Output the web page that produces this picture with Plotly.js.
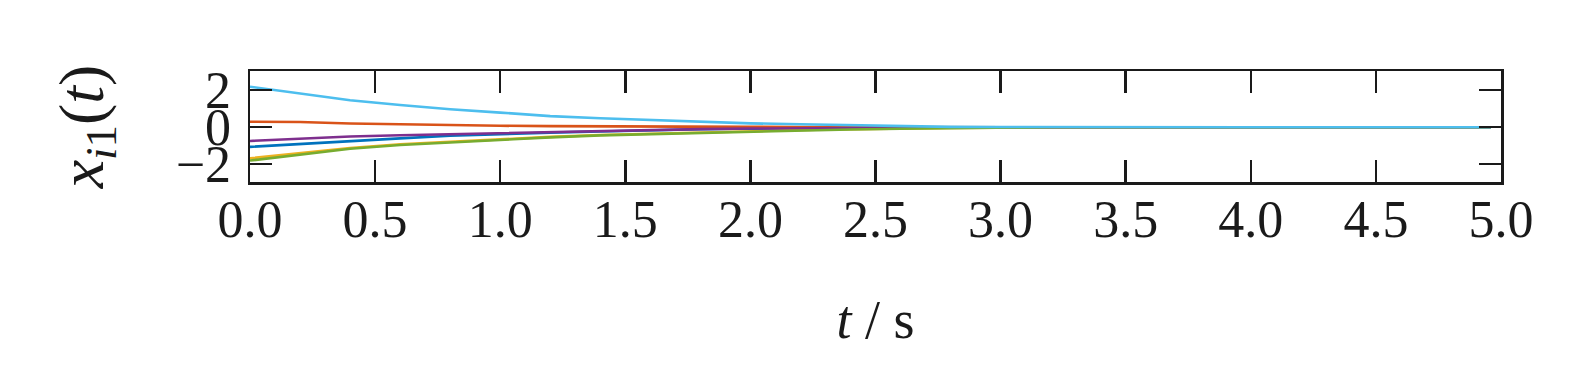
<!DOCTYPE html>
<html>
<head>
<meta charset="utf-8">
<script src="https://cdn.plot.ly/plotly-3.0.1.min.js"></script>
<style>html,body{margin:0;padding:0;background:#fff;}#chart{width:1580px;height:380px;}</style>
</head>
<body>
<div id="chart"></div>
<script>
const t = [0, 0.2, 0.4, 0.6, 0.8, 1.0, 1.2, 1.4, 1.6, 1.8, 2.0, 2.2, 2.4, 2.6, 2.8, 3.0, 3.2, 3.6, 4.0, 4.5, 4.96];
const xBlue   = [-1.06, -0.90, -0.73, -0.60, -0.46, -0.36, -0.29, -0.23, -0.16, -0.11, -0.08, -0.05, -0.03, -0.02, -0.01, 0, 0, 0, 0, 0, 0];
const xOrange = [0.30, 0.28, 0.20, 0.15, 0.12, 0.08, 0.06, 0.06, 0.04, 0.03, 0.02, 0.01, 0.0, 0, 0, 0, 0, 0, 0, 0, 0];
const xYellow = [-1.68, -1.42, -1.12, -0.92, -0.78, -0.64, -0.52, -0.42, -0.35, -0.27, -0.20, -0.15, -0.11, -0.06, -0.04, -0.02, 0, 0, 0, 0, 0];
const xPurple = [-0.74, -0.62, -0.50, -0.43, -0.37, -0.31, -0.25, -0.19, -0.15, -0.10, -0.07, -0.05, -0.03, -0.02, -0.01, 0, 0, 0, 0, 0, 0];
const xGreen  = [-1.80, -1.48, -1.16, -0.96, -0.81, -0.67, -0.55, -0.44, -0.37, -0.29, -0.22, -0.17, -0.12, -0.08, -0.05, -0.02, 0, 0, 0, 0, 0];
const xCyan   = [2.19, 1.84, 1.46, 1.20, 0.97, 0.79, 0.60, 0.49, 0.40, 0.28, 0.21, 0.16, 0.10, 0.05, 0.02, 0.01, 0, 0, 0, 0, 0];
const xTicks = [0, 0.5, 1, 1.5, 2, 2.5, 3, 3.5, 4, 4.5, 5];
const xTickText = ['0.0','0.5','1.0','1.5','2.0','2.5','3.0','3.5','4.0','4.5','5.0'];
const yTicks = [-2, 0, 2];

const series = [
  {y: xBlue, c: '#0072BD'},
  {y: xOrange, c: '#D95319'},
  {y: xYellow, c: '#EDB120'},
  {y: xPurple, c: '#7E2F8E'},
  {y: xGreen, c: '#77AC30'},
  {y: xCyan, c: '#4DBEEE'}
];
const data = series.map(s => ({x: t, y: s.y, type: 'scatter', mode: 'lines', line: {color: s.c, width: 2.6}, showlegend: false}));

const font = 'Liberation Serif, Times New Roman, serif';
const layout = {
  width: 1580, height: 380,
  margin: {l: 250, r: 79, t: 71, b: 198},
  paper_bgcolor: '#fff', plot_bgcolor: '#fff',
  font: {family: font, color: '#1a1a1a', size: 52},
  xaxis: {
    range: [0, 5], tickvals: xTicks, ticktext: xTickText,
    ticks: 'inside', ticklen: 22, tickwidth: 2.5, tickcolor: '#1a1a1a',
    showline: true, linewidth: 2.5, linecolor: '#1a1a1a', mirror: 'ticks',
    showgrid: false, zeroline: false,
    tickfont: {family: font, size: 52, color: '#1a1a1a'},
    ticklabelstandoff: -10,
    title: {text: '<i>t</i> / s', font: {family: font, size: 54, color: '#1a1a1a'}, standoff: 54}
  },
  yaxis: {
    range: [-2.96, 3.04], tickvals: yTicks,
    ticks: 'inside', ticklen: 22, tickwidth: 2.5, tickcolor: '#1a1a1a',
    showline: true, linewidth: 2.5, linecolor: '#1a1a1a', mirror: 'ticks',
    showgrid: false, zeroline: false,
    tickfont: {family: font, size: 52, color: '#1a1a1a'},
    ticklabelstandoff: 6,
    title: {text: '<i>x</i><sub><i>i</i>1</sub>(<i>t</i>)', font: {family: font, size: 64, color: '#1a1a1a'}, standoff: 52}
  }
};
Plotly.newPlot('chart', data, layout, {displayModeBar: false, staticPlot: true});
</script>
</body>
</html>
